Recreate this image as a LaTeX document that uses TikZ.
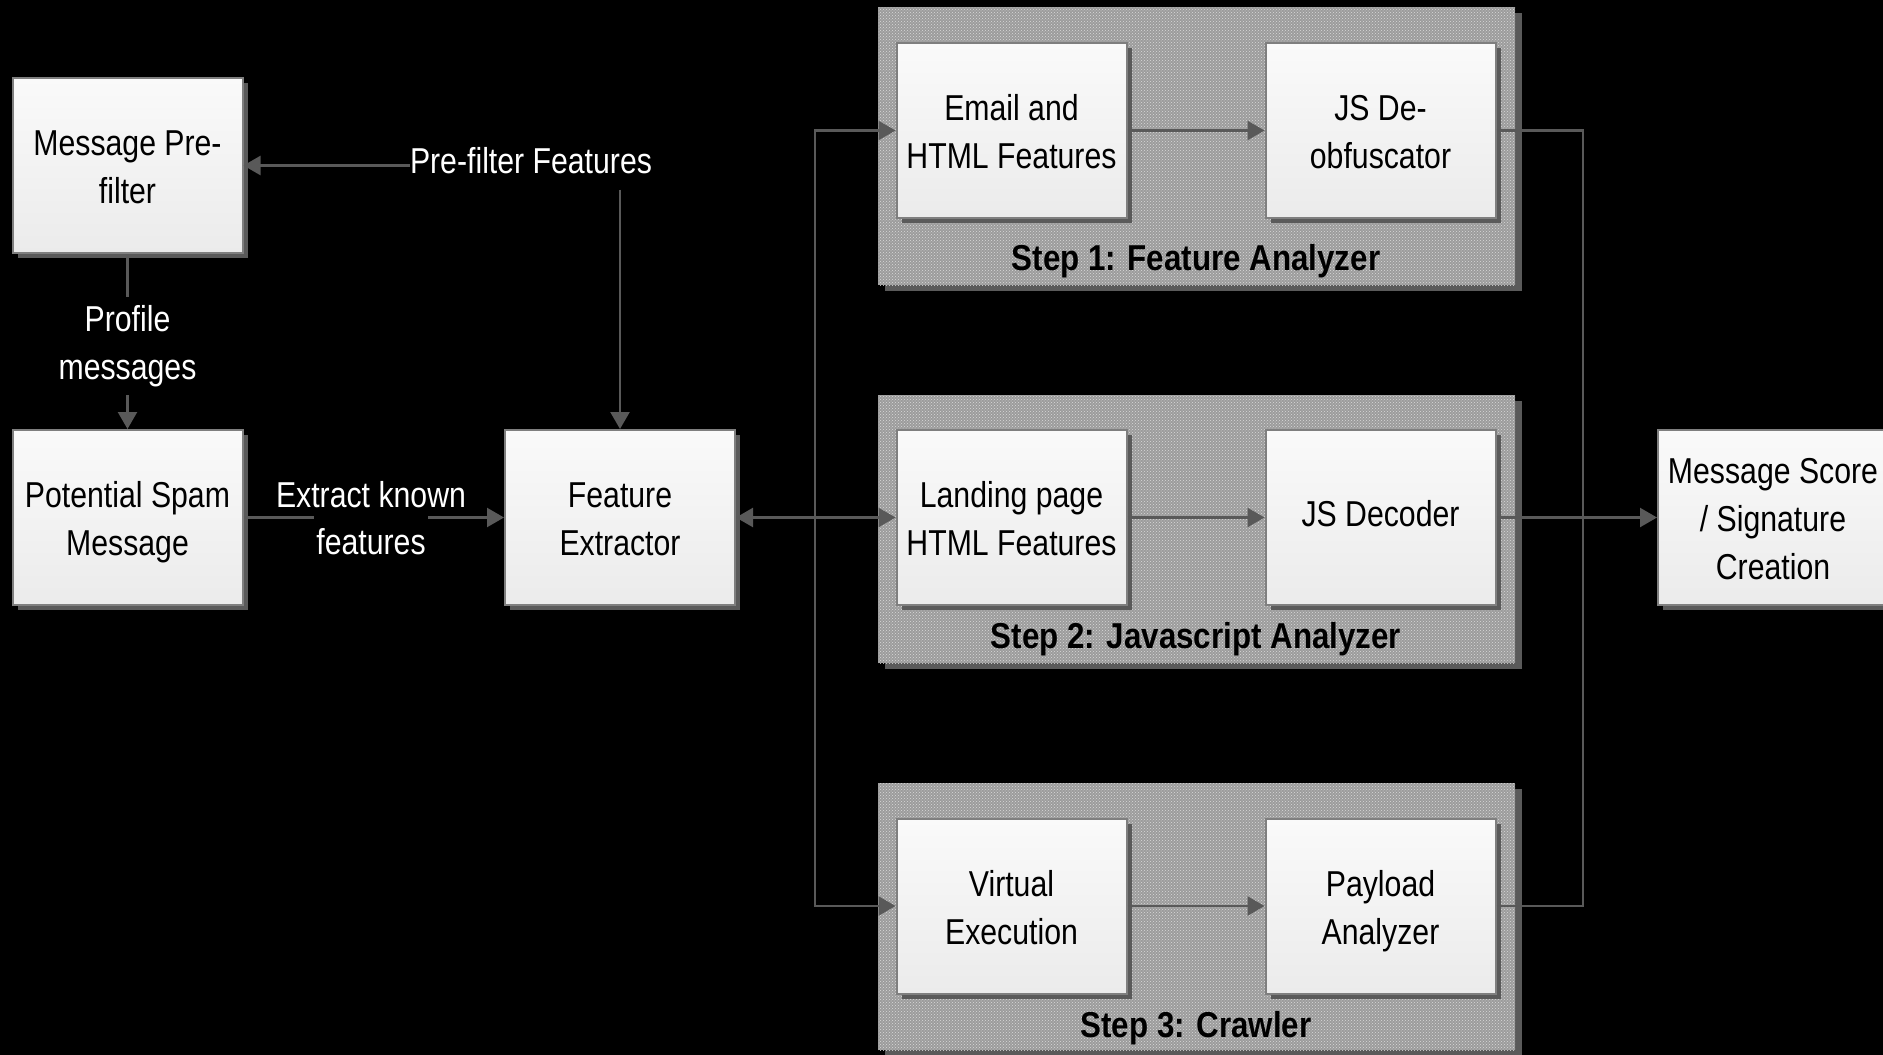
\documentclass[tikz,border=0pt]{standalone}
\usepackage{fontspec}
\setmainfont{Liberation Sans}[FakeStretch=0.84, BoldFeatures={FakeStretch=0.87}]
\usetikzlibrary{arrows.meta,shadows,patterns}

\definecolor{linegray}{HTML}{595959}
\definecolor{boxedge}{HTML}{7F7F7F}
\definecolor{shadegray}{HTML}{5A5A5A}
\definecolor{grpfill}{HTML}{9C9C9C}
\definecolor{grpdots}{HTML}{DADADA}
\definecolor{boxtop}{HTML}{FAFAFA}
\definecolor{boxbot}{HTML}{EBEBEB}

% fixed line metrics so every box text is centred the same way
\newcommand\lnA{\rule{0pt}{37pt}}          % first line of a multi-line label
\newcommand\lnZ{\rule[-8.5pt]{0pt}{0pt}}   % last line
\newcommand\lstrut{\rule[-8.5pt]{0pt}{33pt}}% single-line label

\begin{document}
\begin{tikzpicture}[x=1pt,y=-1pt,
  every node/.style={font=\fontsize{36}{48}\selectfont},
  block/.style={draw=boxedge, line width=2pt, top color=boxtop, bottom color=boxbot,
    minimum width=230pt, minimum height=175pt, align=center, inner sep=0pt,
    drop shadow={shadow xshift=5pt, shadow yshift=-5pt, fill=shadegray, opacity=1}},
  grp/.style={minimum width=637pt, inner sep=0pt,
    drop shadow={shadow xshift=7pt, shadow yshift=-6pt, fill=shadegray, opacity=1},
    preaction={fill=grpfill}, pattern=crosshatch dots, pattern color=grpdots},
  steplbl/.style={font=\fontsize{36}{44}\selectfont\bfseries, text=black, anchor=base, inner sep=0pt},
  elbl/.style={text=white, align=center, inner sep=0pt},
  wire/.style={draw=linegray, line width=2.4pt},
  arr/.style={wire, -{Triangle[length=17pt,width=19pt]}},
  biarr/.style={wire, {Triangle[length=17pt,width=19pt]}-{Triangle[length=17pt,width=19pt]}}
]
% canvas
\fill[black] (0,0) rectangle (1883,1055);
\useasboundingbox (0,0) rectangle (1883,1055);

% analysis stages
\node[grp, minimum height=278pt] (g1) at (1196.5,146) {};
\node[grp, minimum height=268pt] (g2) at (1196.5,529) {};
\node[grp, minimum height=267pt] (g3) at (1196.5,916.5) {};
\node[steplbl] (s1) at (1196,270) {Step 1: Feature Analyzer};
\node[steplbl] (s2) at (1196,648) {Step 2: Javascript Analyzer};
\node[steplbl] (s3) at (1196,1037) {Step 3: Crawler};

% processing blocks
\node[block] (pre)   at (127.5,165.5) {\lnA Message Pre-\\filter\lnZ};
\node[block] (ps)    at (127.5,517.5) {\lnA Potential Spam\\Message\lnZ};
\node[block] (fe)    at (620,517.5)   {\lnA Feature\\Extractor\lnZ};
\node[block] (email) at (1011.5,130.5) {\lnA Email and\\HTML Features\lnZ};
\node[block] (deob)  at (1380.5,130.5) {\lnA JS De-\\obfuscator\lnZ};
\node[block] (land)  at (1011.5,517.5) {\lnA Landing page\\HTML Features\lnZ};
\node[block] (dec)   at (1380.5,517.5) {\lstrut JS Decoder};
\node[block] (virt)  at (1011.5,906)   {\lnA Virtual\\Execution\lnZ};
\node[block] (pay)   at (1380.5,906)   {\lnA Payload\\Analyzer\lnZ};
\node[block] (score) at (1773,517.5)   {\lnA Message Score\\/ Signature\\Creation\lnZ};

% pre-filter feedback
\node[elbl, anchor=base, inner ysep=16pt] (pff) at (531,173) {Pre-filter Features};
\draw[arr] (pff.west |- pre.east) -- (pre.east);
\draw[arr] (fe.north |- pff.south) -- (fe.north);

% profiling
\draw[arr] (pre.south) -- (ps.north);
\node[elbl, fill=black, inner ysep=8pt] (prof) at (127.5,346) {Profile\\messages};

% feature extraction
\draw[arr] (ps.east) -- (fe.west);
\node[elbl, anchor=base] (xk1) at (371,507) {Extract known};
\node[elbl, anchor=base, fill=black, inner xsep=2pt, text height=40pt, text depth=4pt] (xk2) at (371,554) {features};

% distribution to the three stages
\coordinate (busL) at (815,517.5);
\draw[biarr] (fe.east) -- (land.west);
\draw[arr] (busL) |- (email.west);
\draw[arr] (busL) |- (virt.west);

% inside each stage
\draw[arr] (email.east) -- (deob.west);
\draw[arr] (land.east) -- (dec.west);
\draw[arr] (virt.east) -- (pay.west);

% collection into the score
\coordinate (busR) at (1583,517.5);
\draw[wire] (deob.east) -| (busR);
\draw[wire] (pay.east) -| (busR);
\draw[arr] (dec.east) -- (score.west);
\end{tikzpicture}
\end{document}
